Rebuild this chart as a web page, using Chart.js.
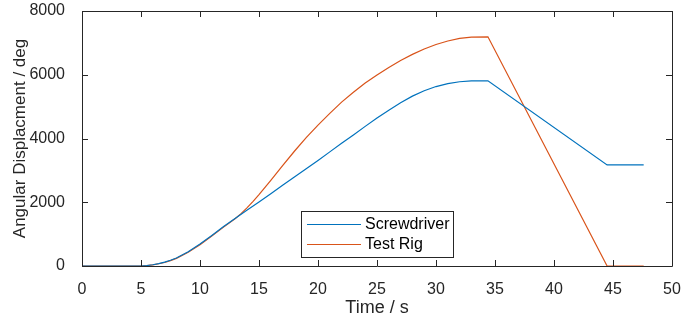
<!DOCTYPE html>
<html>
<head>
<meta charset="utf-8">
<script src="https://cdn.jsdelivr.net/npm/chart.js@4"></script>
<style>
  html, body { margin: 0; padding: 0; background: #fff; }
  #wrap { width: 698px; height: 321px; }
</style>
</head>
<body>
<div id="wrap"><canvas id="plot" width="698" height="321"></canvas></div>
<script>
// time samples (s) and displacement (deg)
const timeScrew = [0, 5, 5.5, 6, 6.5, 7, 7.5, 8, 9, 10, 11, 12, 13, 14, 15, 16, 17, 18, 19, 20, 21, 22, 23, 24, 25, 26, 27, 28, 29, 30, 31, 32, 33, 34.4, 44.5, 47.6];
const screwdriver = [0, 0, 15, 40, 75, 120, 180, 250, 450, 690, 960, 1240, 1500, 1760, 2010, 2270, 2530, 2790, 3050, 3310, 3580, 3850, 4110, 4380, 4640, 4890, 5120, 5330, 5500, 5630, 5720, 5780, 5805, 5810, 3170, 3170];

const timeRig = [0, 5, 5.5, 6, 6.5, 7, 7.5, 8, 9, 10, 11, 12, 13, 13.5, 14, 14.5, 15, 16, 17, 18, 19, 20, 21, 22, 23, 24, 25, 26, 27, 28, 29, 30, 31, 32, 33, 34.4, 44.5, 47.6];
const testRig = [0, 0, 15, 38, 70, 110, 170, 240, 430, 670, 940, 1220, 1490, 1650, 1830, 2030, 2240, 2690, 3150, 3600, 4030, 4420, 4790, 5140, 5450, 5740, 5990, 6230, 6450, 6640, 6810, 6950, 7060, 7140, 7180, 7190, 0, 0];

const xTicks = [0, 5, 10, 15, 20, 25, 30, 35, 40, 45, 50];
const yTicks = [0, 2000, 4000, 6000, 8000];

const blue = '#0072BD';
const orange = '#D95319';
const ink = '#262626';
const fontFam = '"Liberation Sans", Helvetica, Arial, sans-serif';

// box + inward ticks + legend like matlab
const matlabAxes = {
    id: 'matlabAxes',
    afterDraw(chart) {
        const ctx = chart.ctx;
        const a = chart.chartArea;
        const xs = chart.scales.x, ys = chart.scales.y;
        const tl = 6;
        ctx.save();
        ctx.strokeStyle = ink;
        ctx.lineWidth = 1;
        ctx.beginPath();
        ctx.rect(Math.round(a.left) + 0.5, Math.round(a.top) + 0.5, Math.round(a.right - a.left), Math.round(a.bottom - a.top));
        ctx.stroke();
        ctx.beginPath();
        xTicks.forEach(v => {
            const px = Math.round(xs.getPixelForValue(v)) + 0.5;
            ctx.moveTo(px, a.bottom); ctx.lineTo(px, a.bottom - tl);
            ctx.moveTo(px, a.top); ctx.lineTo(px, a.top + tl);
        });
        yTicks.forEach(v => {
            const py = Math.round(ys.getPixelForValue(v)) + 0.5;
            ctx.moveTo(a.left, py); ctx.lineTo(a.left + tl, py);
            ctx.moveTo(a.right, py); ctx.lineTo(a.right - tl, py);
        });
        ctx.stroke();

        // legend box
        const lx = 301, ly = 211, lw = 152, lh = 46;
        ctx.fillStyle = '#fff';
        ctx.fillRect(lx, ly, lw, lh);
        ctx.strokeStyle = ink;
        ctx.strokeRect(lx + 0.5, ly + 0.5, lw, lh);
        ctx.font = '16px ' + fontFam;
        ctx.textBaseline = 'middle';
        chart.data.datasets.forEach((ds, i) => {
            const yy = ly + 13 + i * 20;
            ctx.strokeStyle = ds.borderColor;
            ctx.beginPath();
            ctx.moveTo(lx + 6, yy + 0.5); ctx.lineTo(lx + 60, yy + 0.5);
            ctx.stroke();
            ctx.fillStyle = '#000';
            ctx.fillText(ds.label, lx + 64, yy + 1);
        });
        ctx.restore();
    }
};

new Chart(document.getElementById('plot').getContext('2d'), {
    type: 'line',
    data: {
        datasets: [{
            label: 'Screwdriver',
            data: timeScrew.map((t, i) => ({ x: t, y: screwdriver[i] })),
            borderColor: blue,
            borderWidth: 1.2,
            pointRadius: 0,
            tension: 0
        }, {
            label: 'Test Rig',
            data: timeRig.map((t, i) => ({ x: t, y: testRig[i] })),
            borderColor: orange,
            borderWidth: 1.2,
            pointRadius: 0,
            tension: 0
        }]
    },
    options: {
        responsive: false,
        animation: false,
        layout: { padding: { top: 11, right: 26, left: 0, bottom: 0 } },
        plugins: { legend: { display: false }, tooltip: { enabled: false } },
        scales: {
            x: {
                type: 'linear',
                min: 0, max: 50,
                afterBuildTicks: s => { s.ticks = xTicks.map(v => ({ value: v })); },
                afterFit: s => { s.height = 55; s.paddingLeft = 0; s.paddingRight = 0; },
                grid: { display: false },
                border: { display: false },
                ticks: { color: ink, font: { size: 16, family: fontFam }, padding: 6, maxRotation: 0 },
                title: { display: true, text: 'Time / s', color: ink, font: { size: 18, family: fontFam }, padding: { top: 0, bottom: 2 } }
            },
            y: {
                min: 0, max: 8000,
                afterBuildTicks: s => { s.ticks = yTicks.map(v => ({ value: v })); },
                afterFit: s => { s.width = 82; s.paddingTop = 0; s.paddingBottom = 0; },
                grid: { display: false },
                border: { display: false },
                ticks: { color: ink, font: { size: 16, family: fontFam }, padding: 9, callback: v => String(v) },
                title: { display: true, text: 'Angular Displacment / deg', color: ink, font: { size: 17, family: fontFam }, padding: { top: 10, bottom: 0 } }
            }
        }
    },
    plugins: [matlabAxes]
});
</script>
</body>
</html>
